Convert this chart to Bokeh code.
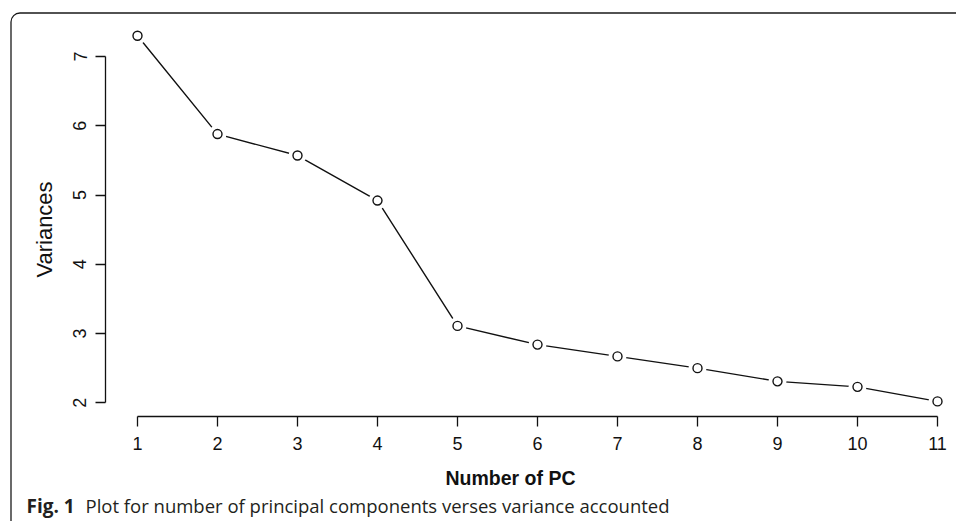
import math
from bokeh.plotting import figure
from bokeh.models import Range1d, FixedTicker, Label, BoxAnnotation, ColumnDataSource
from bokeh.embed import file_html
from bokeh.resources import INLINE

# ---- data ----
pc = [1, 2, 3, 4, 5, 6, 7, 8, 9, 10, 11]
variances = [7.30, 5.88, 5.57, 4.92, 3.11, 2.84, 2.67, 2.50, 2.31, 2.23, 2.02]
x_ticks = [1, 2, 3, 4, 5, 6, 7, 8, 9, 10, 11]
y_ticks = [2, 3, 4, 5, 6, 7]
x_title = "Number of PC"
y_title = "Variances"
caption_bold = "Fig. 1"
caption_text = "Plot for number of principal components verses variance accounted"

W, H = 956, 521
PX_X = 80.0      # pixels per PC
PX_Y = 69.26     # pixels per variance unit
X1_PIX = 137.0   # where PC 1 sits
Y2_PIX = 402.3   # where variance 2 sits (from top)

x0 = 1 - X1_PIX / PX_X
y_top = 2 + Y2_PIX / PX_Y
y_bot = 2 - (H - Y2_PIX) / PX_Y

p = figure(width=W, height=H, output_backend="svg", toolbar_location=None,
           x_range=Range1d(x0, x0 + W / PX_X), y_range=Range1d(y_bot, y_top),
           min_border=0, min_border_left=0, min_border_right=0,
           min_border_top=0, min_border_bottom=0)
p.outline_line_color = None
p.xgrid.visible = False
p.ygrid.visible = False
p.background_fill_color = "white"
p.border_fill_color = "white"

tick_font = "Liberation Sans"
ink = "#111111"
for ax in (p.xaxis, p.yaxis):
    ax.minor_tick_line_color = None
    ax.major_tick_in = 0
    ax.major_tick_out = 10
    ax.axis_line_color = ink
    ax.major_tick_line_color = ink
    ax.axis_line_width = 1.3
    ax.major_tick_line_width = 1.3
    ax.major_label_text_font = tick_font
    ax.major_label_text_font_size = "18px"
    ax.major_label_text_color = ink

# R-style detached axes: placed 4% outside the data range
x_lo, x_hi = min(pc), max(pc)
y_lo, y_hi = min(variances), max(variances)
p.yaxis.fixed_location = x_lo - 0.04 * (x_hi - x_lo)
p.xaxis.fixed_location = y_lo - 0.04 * (y_hi - y_lo)

p.xaxis.ticker = FixedTicker(ticks=x_ticks)
p.yaxis.ticker = FixedTicker(ticks=y_ticks)
p.xaxis.bounds = (min(x_ticks), max(x_ticks))
p.yaxis.bounds = (min(y_ticks), max(y_ticks))
p.xaxis.major_label_standoff = 11
p.yaxis.major_label_standoff = 9
p.yaxis.major_label_orientation = "vertical"

src = ColumnDataSource(data=dict(x=pc, y=variances))
p.line("x", "y", source=src, line_color=ink, line_width=1.4)
# white halo to create the gaps of an R type="b" plot
p.scatter("x", "y", source=src, size=18, marker="circle", fill_color="white", line_color=None)
p.scatter("x", "y", source=src, size=9, marker="circle", fill_color="white",
          line_color=ink, line_width=1.4)

def sy(Y):
    return H - Y

p.add_layout(Label(x=510, y=sy(477), x_units="screen", y_units="screen", text=x_title,
                   text_font=tick_font, text_font_size="19.5px", text_font_style="bold",
                   text_align="center", text_baseline="middle", text_color=ink))
p.add_layout(Label(x=44, y=sy(229), x_units="screen", y_units="screen", text=y_title,
                   text_font=tick_font, text_font_size="22px", angle=math.pi / 2,
                   text_align="center", text_baseline="middle", text_color=ink))
p.add_layout(Label(x=26, y=sy(505), x_units="screen", y_units="screen", text=caption_bold,
                   text_font="Open Sans", text_font_size="19px", text_font_style="bold",
                   text_align="left", text_baseline="middle", text_color="#231f20"))
p.add_layout(Label(x=85, y=sy(505), x_units="screen", y_units="screen", text=caption_text,
                   text_font="Open Sans", text_font_size="18.5px",
                   text_align="left", text_baseline="middle", text_color="#231f20"))

p.add_layout(BoxAnnotation(left=10.5, right=W + 60, top=sy(12.5), bottom=-60,
                           left_units="screen", right_units="screen", top_units="screen",
                           bottom_units="screen", fill_alpha=0, line_color="#1a1a1a",
                           line_alpha=1.0, line_width=1.3, border_radius=9))

open("out.html", "w").write(file_html(p, INLINE))
